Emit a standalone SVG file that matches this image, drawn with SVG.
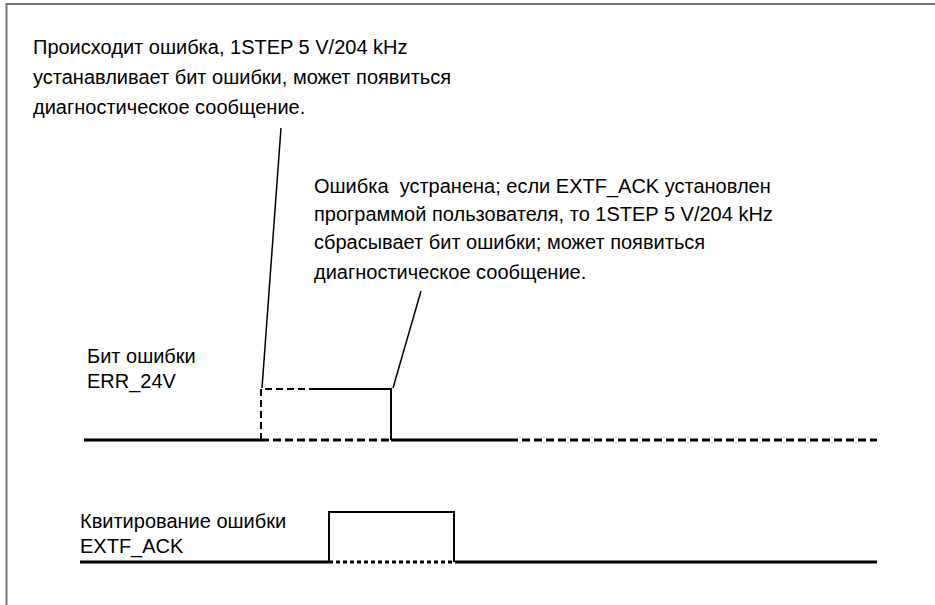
<svg xmlns="http://www.w3.org/2000/svg" width="935" height="605" viewBox="0 0 935 605">
<style>
text{font-family:"Liberation Sans",Arial,sans-serif;font-size:20px;fill:#000}
.b{stroke:#000;stroke-width:3;fill:none}
.bd{stroke:#000;stroke-width:3;fill:none;stroke-dasharray:8,4}
.p{stroke:#000;stroke-width:2;fill:none}
.pd{stroke:#000;stroke-width:2;fill:none;stroke-dasharray:7,4}
.l{stroke:#000;stroke-width:1.5;fill:none}
</style>
<rect width="935" height="605" fill="#fff"/>
<path d="M6.5,605 V4 H935" stroke="#777" stroke-width="2" fill="none"/>
<g id="note1">
<text x="33" y="54">Происходит ошибка, 1STEP 5 V/204 kHz</text>
<text x="33" y="84">устанавливает бит ошибки, может появиться</text>
<text x="33" y="114">диагностическое сообщение.</text>
</g>
<g id="note2">
<text x="314" y="193" xml:space="preserve">Ошибка  устранена; если EXTF_ACK установлен</text>
<text x="314" y="221">программой пользователя, то 1STEP 5 V/204 kHz</text>
<text x="314" y="249">сбрасывает бит ошибки; может появиться</text>
<text x="314" y="279">диагностическое сообщение.</text>
</g>
<g id="label-err">
<text x="87" y="363">Бит ошибки</text>
<text x="87" y="388">ERR_24V</text>
</g>
<g id="label-ack">
<text x="80" y="528">Квитирование ошибки</text>
<text x="80" y="553">EXTF_ACK</text>
</g>
<g id="connectors">
<line class="l" x1="281" y1="128" x2="262" y2="388"/>
<line class="l" x1="421" y1="291" x2="393" y2="388"/>
</g>
<g id="signal-err">
<line class="b" x1="84" y1="440" x2="261" y2="440"/>
<line class="bd" x1="261" y1="440" x2="391" y2="440"/>
<polyline class="pd" points="261,440 261,389 315,389"/>
<polyline class="p" points="315,389 391,389 391,440"/>
<line class="b" x1="391" y1="440" x2="510" y2="440"/>
<line class="bd" x1="510" y1="440" x2="877" y2="440"/>
</g>
<g id="signal-ack">
<line class="b" x1="80" y1="562" x2="329" y2="562"/>
<line class="bd" x1="329" y1="562" x2="455" y2="562" style="stroke-dasharray:4,3"/>
<polyline class="p" points="329,562 329,512 454,512 454,562"/>
<line class="b" x1="455" y1="562" x2="877" y2="562"/>
</g>
</svg>
